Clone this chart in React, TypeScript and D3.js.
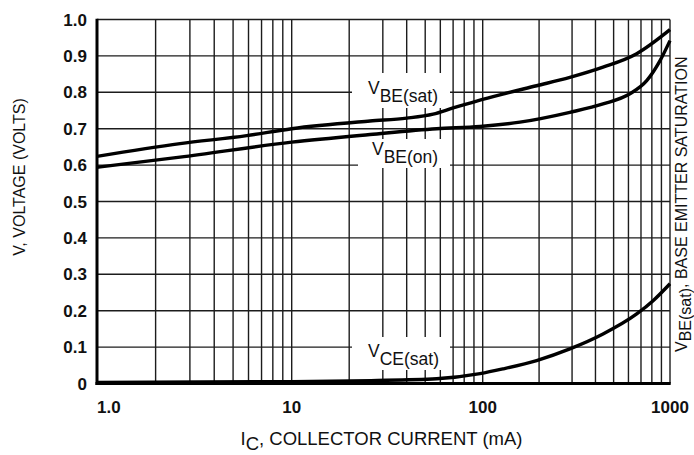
import React from 'react';
import * as d3 from 'd3';

// ---- data ----
const xTickValues = [1, 10, 100, 1000];
const xTickLabels = ['1.0', '10', '100', '1000'];
const yTickValues = [0, 0.1, 0.2, 0.3, 0.4, 0.5, 0.6, 0.7, 0.8, 0.9, 1.0];
const yTickLabels = ['0', '0.1', '0.2', '0.3', '0.4', '0.5', '0.6', '0.7', '0.8', '0.9', '1.0'];

const vbeSatI = [1, 2.67, 5.87, 10, 25.7, 40, 55, 70, 93, 128, 194, 292, 439, 664, 1000];
const vbeSatV = [0.624, 0.659, 0.681, 0.700, 0.721, 0.729, 0.740, 0.757, 0.776, 0.795, 0.818, 0.841, 0.869, 0.906, 0.972];

const vbeOnI = [1, 2.67, 10, 25.7, 57.4, 96.8, 158, 292, 439, 611, 751, 885, 1000];
const vbeOnV = [0.594, 0.622, 0.663, 0.684, 0.700, 0.706, 0.718, 0.745, 0.768, 0.796, 0.832, 0.887, 0.942];

const vceSatI = [1, 10, 26, 57.4, 96.8, 128, 194, 292, 439, 664, 815, 1000];
const vceSatV = [0.003, 0.005, 0.008, 0.013, 0.027, 0.040, 0.063, 0.095, 0.136, 0.191, 0.228, 0.274];

const FONT = '"Liberation Sans", Arial, Helvetica, sans-serif';

export default function App() {
  const x = d3.scaleLog().domain([1, 10, 100, 1000]).range([97, 291.7, 482.7, 670]);
  const y = d3.scaleLinear().domain([0, 1]).range([383.5, 19.5]);

  const gridX: number[] = [];
  [1, 10, 100].forEach((d) => {
    for (let k = 1; k <= 9; k++) gridX.push(k * d);
  });
  gridX.push(1000);

  const line = d3
    .line<[number, number]>()
    .x((d) => x(d[0]))
    .y((d) => y(d[1]))
    .curve(d3.curveMonotoneX);

  const series = [
    vbeSatI.map((v, i) => [v, vbeSatV[i]] as [number, number]),
    vbeOnI.map((v, i) => [v, vbeOnV[i]] as [number, number]),
    vceSatI.map((v, i) => [v, vceSatV[i]] as [number, number]),
  ];

  const [x0, x1] = [x(1), x(1000)];
  const [y0, y1] = [y(0), y(1)];

  const labels = [
    { main: 'V', sub: 'BE(sat)', tx: 368, ty: 94, box: [352, 73, 98, 35] },
    { main: 'V', sub: 'BE(on)', tx: 372, ty: 155, box: [358, 139, 92, 29] },
    { main: 'V', sub: 'CE(sat)', tx: 368, ty: 357, box: [352, 337, 98, 33] },
  ];

  return (
    <svg
      width={694}
      height={455}
      style={{ position: 'absolute', left: 0, top: 0, background: '#fff' }}
      fontFamily={FONT}
    >
      <rect x={0} y={0} width={694} height={455} fill="#fff" />
      {/* grid */}
      <g stroke="#1c1c1c" strokeWidth={1.4}>
        {gridX.map((g) => (
          <line key={'gx' + g} x1={x(g)} x2={x(g)} y1={y1} y2={y0} />
        ))}
        {yTickValues.map((v) => (
          <line key={'gy' + v} x1={x0} x2={x1} y1={y(v)} y2={y(v)} />
        ))}
      </g>
      {/* label boxes */}
      {labels.map((l, i) => (
        <rect key={'b' + i} x={l.box[0]} y={l.box[1]} width={l.box[2]} height={l.box[3]} fill="#fff" />
      ))}
      {/* curves */}
      {series.map((s, i) => (
        <path key={'s' + i} d={line(s) || ''} fill="none" stroke="#000" strokeWidth={3.4} strokeLinejoin="round" />
      ))}
      {/* axes */}
      <line x1={x0} x2={x0} y1={y1 - 0.7} y2={y0 + 1.5} stroke="#000" strokeWidth={3} />
      <line x1={x0 - 1.5} x2={x1 + 0.7} y1={y0} y2={y0} stroke="#000" strokeWidth={3} />
      {/* curve labels */}
      {labels.map((l, i) => (
        <text key={'t' + i} x={l.tx} y={l.ty} fontSize={17.5} fill="#111">
          {l.main}
          <tspan dy={7.5}>{l.sub}</tspan>
        </text>
      ))}
      {/* y tick labels */}
      {yTickValues.map((v, i) => (
        <text key={'yl' + v} x={87} y={y(v)} dy="0.36em" textAnchor="end" fontSize={17} fontWeight="bold" fill="#111">
          {yTickLabels[i]}
        </text>
      ))}
      {/* x tick labels */}
      {xTickValues.map((v, i) => (
        <text
          key={'xl' + v}
          x={x(v)}
          y={413}
          textAnchor={i === 0 ? 'start' : 'middle'}
          fontSize={17}
          fontWeight="bold"
          fill="#111"
        >
          {xTickLabels[i]}
        </text>
      ))}
      {/* axis titles */}
      <text x={381.5} y={445} textAnchor="middle" fontSize={18.5} fill="#111">
        I<tspan dy={5}>C</tspan>
        <tspan dy={-5}>, COLLECTOR CURRENT (mA)</tspan>
      </text>
      <text transform="translate(25,177) rotate(-90)" textAnchor="middle" fontSize={16} fill="#111">
        V, VOLTAGE (VOLTS)
      </text>
      <text transform="translate(687,352) rotate(-90)" textAnchor="start" fontSize={16} fill="#111">
        V<tspan dy={3.5}>BE(sat)</tspan>
        <tspan dy={-3.5}>, BASE EMITTER SATURATION</tspan>
      </text>
    </svg>
  );
}
